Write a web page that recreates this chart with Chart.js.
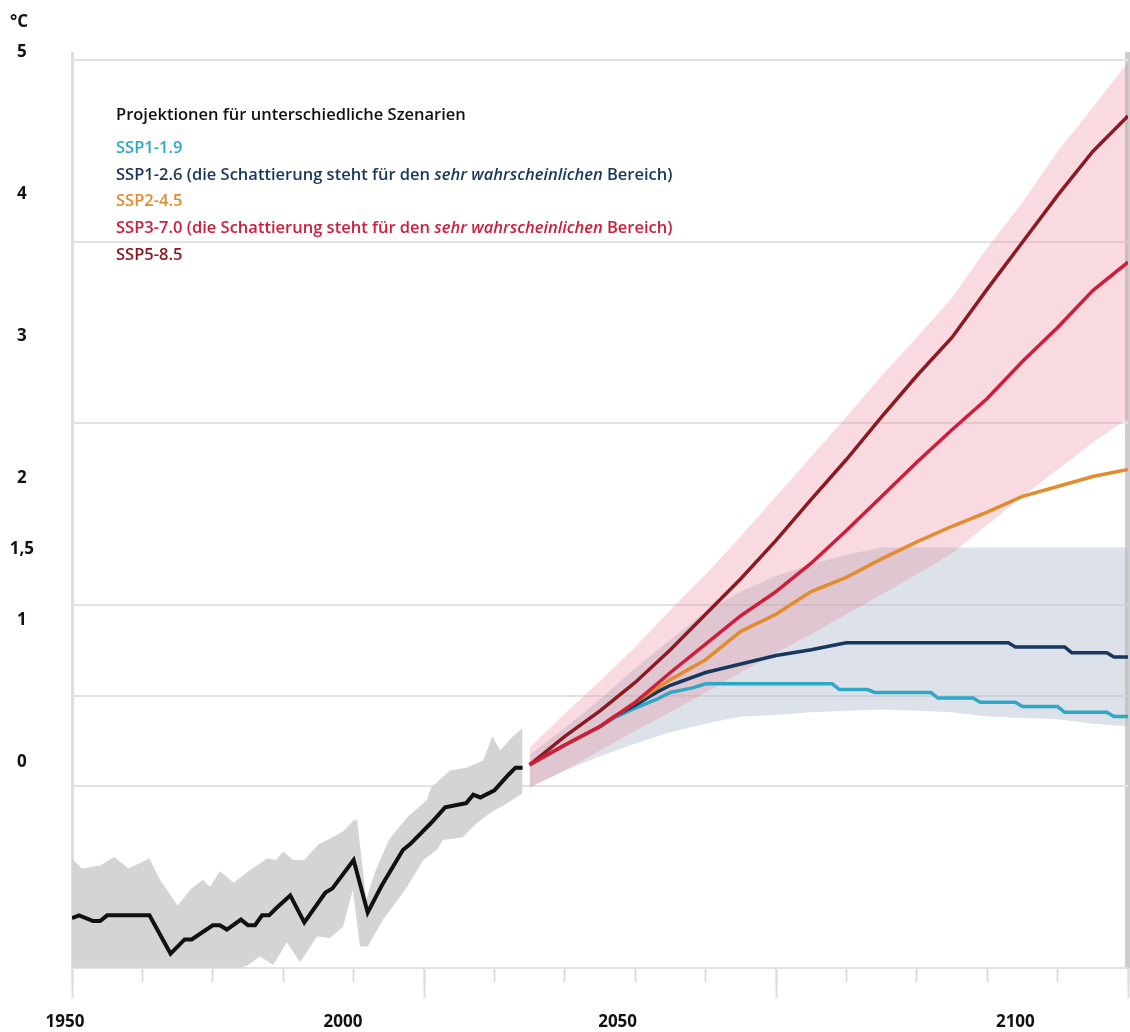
<!DOCTYPE html>
<html>
<head>
<meta charset="utf-8">
<script src="https://cdn.jsdelivr.net/npm/chart.js@4.4.1/dist/chart.umd.min.js"></script>
<style>
  html, body { margin: 0; padding: 0; background: #fff; }
</style>
</head>
<body>
<canvas id="myChart" width="1130" height="1032"></canvas>
<script>
// historical mean and its shaded range
var histYears = [1950, 1951, 1953, 1954, 1955, 1961, 1964, 1966, 1967, 1970, 1971, 1972, 1974, 1975, 1976, 1977, 1978, 1979, 1981, 1983,
                 1986, 1987, 1990, 1992, 1994, 1997, 1998, 2001, 2003, 2005, 2006, 2007, 2008, 2010, 2012, 2013, 2014];
var histMean = [-1.10, -1.08, -1.12, -1.12, -1.08, -1.08, -1.35, -1.25, -1.25, -1.15, -1.15, -1.18, -1.11, -1.15, -1.15, -1.08, -1.08, -1.03, -0.94, -1.13,
                -0.92, -0.89, -0.69, -1.06, -0.87, -0.62, -0.58, -0.43, -0.32, -0.30, -0.29, -0.23, -0.25, -0.20, -0.09, -0.04, -0.04];

var histHighYears = [1950, 1951.4, 1954, 1956, 1958, 1961, 1962.5, 1965, 1967, 1968.6, 1969.6, 1971, 1973, 1975.3, 1977.7, 1979, 1980, 1981.4, 1983, 1985,
                     1986.6, 1988.5, 1990, 1990.5, 1991.8, 1993, 1995, 1997.6, 2000.4, 2001, 2003.7, 2006, 2008.4, 2009.7, 2010.8, 2012.6, 2014];
var histHigh = [-0.68, -0.75, -0.73, -0.67, -0.75, -0.68, -0.83, -1.01, -0.89, -0.83, -0.88, -0.77, -0.85, -0.76, -0.68, -0.69, -0.63, -0.69, -0.69, -0.58,
                -0.54, -0.49, -0.41, -0.41, -0.97, -0.78, -0.55, -0.39, -0.27, -0.18, -0.06, -0.04, 0.01, 0.18, 0.08, 0.18, 0.24];

var histLowYears = [1950, 1974, 1975, 1976.7, 1978.6, 1980.5, 1982.4, 1984.8, 1986.6, 1988.5, 1989.9, 1990.9, 1992, 1994.2, 1997.6, 1999.9,
                    2001.8, 2002.7, 2005.5, 2007.5, 2009.4, 2011.8, 2014];
var histLow = [-1.45, -1.45, -1.43, -1.37, -1.43, -1.27, -1.41, -1.23, -1.24, -1.16, -0.90, -1.30, -1.30, -1.11, -0.88, -0.69,
               -0.62, -0.55, -0.53, -0.43, -0.36, -0.29, -0.22];

// projections
var projYears = [2015, 2020, 2025, 2030, 2035, 2040, 2045, 2050, 2055, 2060, 2065, 2070, 2075, 2080, 2085, 2090, 2095, 2100];
var ssp585 = [-0.02, 0.18, 0.36, 0.56, 0.79, 1.04, 1.29, 1.56, 1.85, 2.13, 2.43, 2.72, 2.99, 3.33, 3.66, 3.99, 4.30, 4.55];
var ssp370 = [-0.02, 0.12, 0.25, 0.42, 0.63, 0.83, 1.03, 1.20, 1.40, 1.63, 1.87, 2.11, 2.34, 2.56, 2.82, 3.06, 3.32, 3.52];
var ssp245 = [-0.02, 0.12, 0.25, 0.42, 0.58, 0.72, 0.92, 1.04, 1.20, 1.30, 1.43, 1.55, 1.66, 1.76, 1.87, 1.94, 2.01, 2.06];
var ssp370High = [0.10, 0.34, 0.57, 0.81, 1.07, 1.32, 1.59, 1.87, 2.15, 2.43, 2.72, 2.99, 3.27, 3.62, 3.94, 4.30, 4.61, 4.93];
var ssp370Low = [-0.18, -0.06, 0.08, 0.22, 0.35, 0.49, 0.63, 0.77, 0.90, 1.04, 1.18, 1.32, 1.47, 1.67, 1.87, 2.06, 2.25, 2.42];
var ssp126High = [0.05, 0.24, 0.44, 0.66, 0.86, 1.06, 1.20, 1.31, 1.39, 1.46, 1.51, 1.51, 1.51, 1.51, 1.51, 1.51, 1.51, 1.51];
var ssp126Low = [-0.18, -0.06, 0.04, 0.13, 0.21, 0.27, 0.32, 0.33, 0.35, 0.36, 0.37, 0.36, 0.35, 0.32, 0.31, 0.30, 0.27, 0.25];

var ssp126Years = [2015, 2020, 2025, 2027, 2030, 2033, 2035, 2040, 2045, 2050, 2055, 2058, 2060, 2083, 2084, 2091, 2092, 2097, 2098, 2100];
var ssp126 = [-0.02, 0.12, 0.25, 0.32, 0.40, 0.49, 0.54, 0.63, 0.69, 0.75, 0.79, 0.82, 0.84, 0.84, 0.81, 0.81, 0.77, 0.77, 0.74, 0.74];
var ssp119Years = [2015, 2020, 2025, 2027, 2030, 2033, 2035, 2038, 2040, 2058, 2059, 2063, 2064, 2072, 2073, 2078, 2079, 2084, 2085, 2090,
                   2091, 2097, 2098, 2100];
var ssp119 = [-0.02, 0.12, 0.25, 0.31, 0.38, 0.44, 0.49, 0.52, 0.55, 0.55, 0.51, 0.51, 0.49, 0.49, 0.45, 0.45, 0.42, 0.42, 0.39, 0.39,
              0.35, 0.35, 0.32, 0.32];

// axis texts
var yTicks = [0, 1, 1.5, 2, 3, 4, 5];
var xMajor = [1950, 2000, 2050, 2100];
var xTickLabels = ['1950', '2000', '2050', '2100'];
var unitLabel = '°C';

// legend texts
var legendTitle = 'Projektionen für unterschiedliche Szenarien';
var scenarioNames = ['SSP1-1.9', 'SSP1-2.6', 'SSP2-4.5', 'SSP3-7.0', 'SSP5-8.5'];
var scenarioColors = ['#2ea8c5', '#17375f', '#e38b2f', '#cf1d3c', '#8c1a22'];
var scenarioNote = [false, true, false, true, false];
var rangeNote = [' (die Schattierung steht für den ', 'sehr wahrscheinlichen', ' Bereich)'];

function pts(xs, ys) {
  return xs.map(function(x, i) { return {x: x, y: ys[i]}; });
}
function line(data, color, width) {
  return {data: data, borderColor: color, borderWidth: width, pointRadius: 0, fill: false, tension: 0};
}
function band(data, color, fill) {
  return {data: data, borderColor: 'rgba(0,0,0,0)', borderWidth: 0, pointRadius: 0, backgroundColor: color, fill: fill};
}
function setTicks(list) {
  return function(scale) { scale.ticks = list.map(function(v) { return {value: v}; }); };
}

var FONT = '"Open Sans", "DejaVu Sans", sans-serif';

var overlay = {
  id: 'overlay',
  afterDraw: function(chart) {
    var ctx = chart.ctx;
    ctx.save();
    ctx.textBaseline = 'middle';
    ctx.fillStyle = '#111';
    ctx.textAlign = 'center';
    ctx.font = '700 17px ' + FONT;
    ctx.fillText(unitLabel, 19, 22);

    ctx.textAlign = 'left';
    var x0 = 116;
    ctx.font = '600 16.5px ' + FONT;
    ctx.fillText(legendTitle, x0, 115);
    scenarioNames.forEach(function(name, i) {
      var y = 148 + i * 26.8;
      var x = x0;
      ctx.fillStyle = scenarioColors[i];
      ctx.font = '600 16.5px ' + FONT;
      ctx.fillText(name, x, y);
      x += ctx.measureText(name).width;
      if (scenarioNote[i]) {
        rangeNote.forEach(function(part, k) {
          ctx.font = (k === 1 ? 'italic ' : '') + '600 16.5px ' + FONT;
          ctx.fillText(part, x, y);
          x += ctx.measureText(part).width;
        });
      }
    });
    ctx.restore();
  }
};

new Chart('myChart', {
  type: 'line',
  data: {
    datasets: [
      line(pts(projYears, ssp370), scenarioColors[3], 3.5),
      line(pts(projYears, ssp585), scenarioColors[4], 3.5),
      line(pts(projYears, ssp245), scenarioColors[2], 3.5),
      line(pts(ssp126Years, ssp126), scenarioColors[1], 3.5),
      line(pts(ssp119Years, ssp119), scenarioColors[0], 3.5),
      line(pts(histYears, histMean), '#111111', 4),
      band(pts(projYears, ssp370High), 'rgba(232,132,152,0.30)', '+1'),
      band(pts(projYears, ssp370Low), 'rgba(0,0,0,0)', false),
      band(pts(projYears, ssp126High), 'rgba(179,191,208,0.45)', '+1'),
      band(pts(projYears, ssp126Low), 'rgba(0,0,0,0)', false),
      band(pts(histHighYears, histHigh), '#d4d4d4', '+1'),
      band(pts(histLowYears, histLow), 'rgba(0,0,0,0)', false)
    ]
  },
  options: {
    responsive: false,
    animation: false,
    layout: {padding: {top: 52, right: 2, left: 0, bottom: 0}},
    plugins: {
      legend: {display: false},
      tooltip: {enabled: false}
    },
    scales: {
      x: {
        type: 'linear', position: 'bottom', min: 1950, max: 2100, weight: 0,
        ticks: {display: false, stepSize: 10},
        grid: {drawOnChartArea: false, tickLength: 14, tickColor: '#dddddd', tickWidth: 2},
        border: {display: false},
        afterFit: function(s) { s.height = 0; }
      },
      xFrame: {
        type: 'linear', position: 'bottom', min: 1950, max: 2100, weight: 0,
        afterBuildTicks: setTicks(xMajor),
        ticks: {display: false},
        grid: {
          tickLength: 30, tickColor: '#dddddd', tickWidth: 2,
          color: function(c) {
            if (!c.tick) return 'rgba(0,0,0,0)';
            if (c.tick.value === 1950) return '#dedede';
            if (c.tick.value === 2100) return '#cdcdcd';
            return 'rgba(0,0,0,0)';
          },
          lineWidth: function(c) {
            return c.tick && c.tick.value === 2100 ? 7 : 3;
          }
        },
        border: {display: false},
        afterFit: function(s) { s.height = 0; }
      },
      xLab: {
        type: 'linear', position: 'bottom', min: 1950, max: 2100, weight: 1,
        afterBuildTicks: setTicks([1949, 1988.5, 2027.5, 2084]),
        ticks: {
          autoSkip: false, maxRotation: 0, padding: 44, color: '#111',
          font: {family: FONT, size: 17, weight: '700'},
          callback: function(v, i) { return xTickLabels[i]; }
        },
        grid: {display: false, drawTicks: false},
        border: {display: false},
        afterFit: function(s) { s.height = 64; }
      },
      y: {
        type: 'linear', position: 'left', min: -1.451, max: 5,
        afterBuildTicks: setTicks(yTicks),
        afterFit: function(s) { s.width = 72; },
        grid: {display: false, drawTicks: false},
        border: {display: false},
        ticks: {
          autoSkip: false, crossAlign: 'center', padding: 38, color: '#111',
          font: {family: FONT, size: 17, weight: '700'},
          callback: function(v) { return String(v).replace('.', ','); }
        }
      },
      yGrid: {
        type: 'linear', position: 'right', min: 0, max: 5.044,
        afterBuildTicks: setTicks(yTicks),
        afterFit: function(s) { s.width = 0; },
        ticks: {display: false},
        grid: {color: '#e2e2e2', lineWidth: 2, drawTicks: false},
        border: {display: false}
      }
    }
  },
  plugins: [overlay]
});
</script>
</body>
</html>
